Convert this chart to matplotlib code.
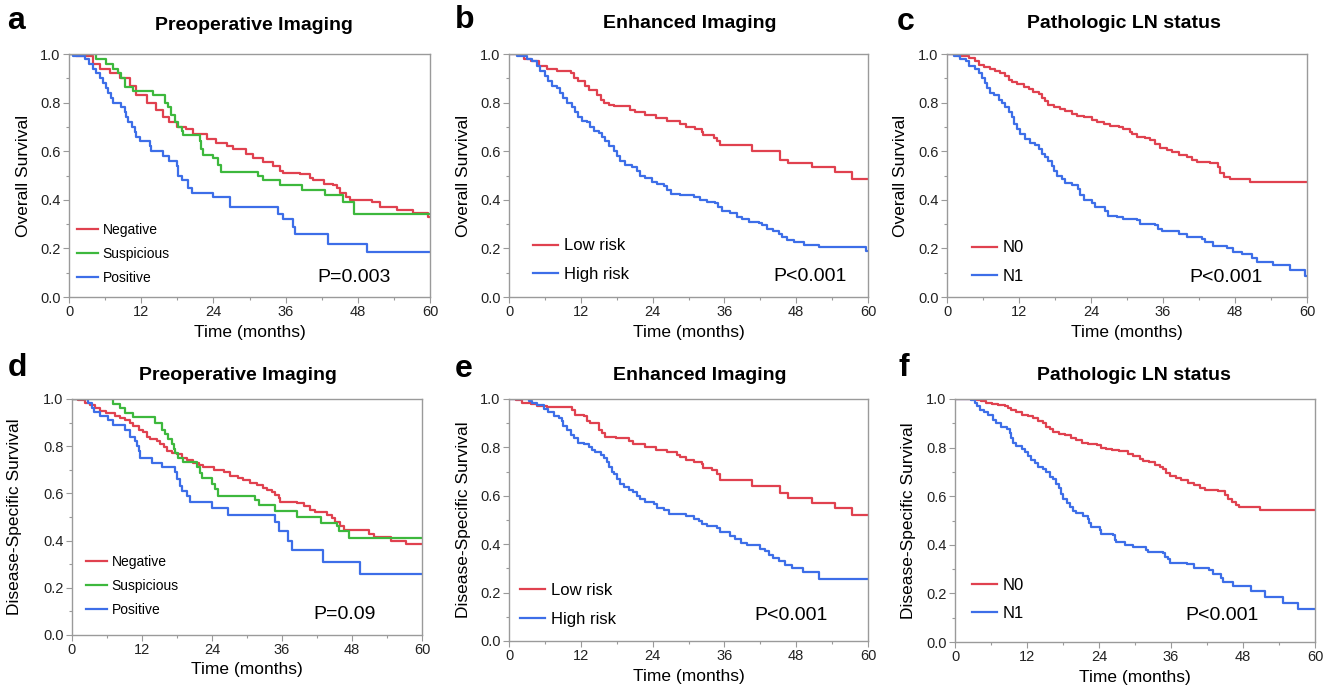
import matplotlib
matplotlib.use("Agg")
import matplotlib.pyplot as plt
from matplotlib.ticker import MultipleLocator

plt.rcParams["font.family"] = ["Liberation Sans", "DejaVu Sans"]

RED = "#e0414f"
GREEN = "#3db83d"
BLUE = "#3d6ee8"
FRAME = "#9a9a9a"

# ---- panel a: overall survival, preoperative imaging ----
a_neg_t = [0, 1.2, 4, 5.1, 6.8, 8.4, 10.1, 11.2, 12.9, 14.5, 15.6, 16.7, 17.9, 19.5, 20.6, 22.9, 24.5, 26.2,
           27.3, 29.5, 30.6, 32.3, 33.9, 35.1, 35.6, 38.4, 40, 40.6, 42.3, 43.9, 44.5, 45, 46.1, 46.7, 50.3,
           51.7, 54.5, 57.2, 59.7, 60]
a_neg_s = [1.0, 0.99, 0.96, 0.94, 0.92, 0.90, 0.87, 0.83, 0.80, 0.77, 0.74, 0.72, 0.70, 0.69, 0.67, 0.65, 0.635,
           0.62, 0.61, 0.59, 0.57, 0.555, 0.54, 0.52, 0.51, 0.505, 0.49, 0.48, 0.465, 0.46, 0.45, 0.43, 0.41,
           0.40, 0.39, 0.37, 0.36, 0.345, 0.33, 0.33]
a_sus_t = [0, 4.5, 5.1, 6.2, 7.3, 8.2, 8.7, 9.3, 10.6, 14.0, 15.9, 16.5, 17.0, 17.6, 18.1, 18.7, 19.0, 21.7, 22.0,
           22.3, 24.0, 24.8, 25.3, 31.4, 32.3, 35.0, 38.7, 42.5, 45.6, 47.3, 60]
a_sus_s = [1.0, 0.98, 0.98, 0.96, 0.94, 0.92, 0.90, 0.865, 0.848, 0.83, 0.80, 0.78, 0.75, 0.72, 0.70, 0.685,
           0.665, 0.64, 0.61, 0.585, 0.57, 0.545, 0.515, 0.50, 0.48, 0.46, 0.44, 0.42, 0.39, 0.34, 0.34]
a_pos_t = [0, 0.7, 2.6, 3.4, 4.0, 4.5, 5.1, 5.7, 6.2, 6.5, 7.0, 7.3, 8.7, 9.3, 9.5, 9.8, 10.4, 10.9, 11.2, 11.8,
           13.4, 13.7, 15.6, 16.7, 17.9, 18.1, 18.7, 19.8, 20.4, 24.0, 26.7, 34.8, 35.6, 37.2, 37.5, 43.1,
           49.5, 60]
a_pos_s = [1.0, 0.99, 0.98, 0.96, 0.94, 0.92, 0.90, 0.88, 0.86, 0.84, 0.82, 0.80, 0.78, 0.76, 0.74, 0.72, 0.70,
           0.68, 0.66, 0.64, 0.62, 0.60, 0.58, 0.56, 0.54, 0.50, 0.48, 0.45, 0.43, 0.41, 0.37, 0.34, 0.32,
           0.29, 0.26, 0.22, 0.185, 0.185]

# ---- panel b: overall survival, enhanced imaging ----
b_low_t = [0, 2.5, 3.6, 5.0, 6.4, 8.0, 10.3, 10.8, 11.6, 12.7, 13.3, 14.7, 15.3, 15.8, 16.7, 17.5, 20.3, 21.1,
           22.8, 24.5, 26.4, 28.6, 29.5, 31.1, 32.3, 32.5, 34.2, 34.8, 35.3, 40.6, 45.3, 46.7, 50.6, 54.5,
           57.3, 60]
b_low_s = [1.0, 0.98, 0.97, 0.95, 0.94, 0.93, 0.92, 0.90, 0.89, 0.87, 0.85, 0.83, 0.81, 0.80, 0.79, 0.785,
           0.77, 0.76, 0.75, 0.735, 0.725, 0.71, 0.70, 0.69, 0.68, 0.665, 0.655, 0.64, 0.625, 0.60, 0.565,
           0.55, 0.535, 0.515, 0.485, 0.485]
b_high_t = [0, 1.3, 3.0, 3.8, 4.7, 5.2, 6.1, 6.6, 7.2, 8.0, 8.6, 9.1, 9.7, 10.5, 11.1, 11.6, 12.2, 13.0, 13.6,
            14.2, 15.0, 15.5, 16.1, 16.7, 17.5, 18.0, 18.6, 19.4, 20.6, 21.4, 21.9, 22.8, 23.9, 24.7, 25.9,
            26.4, 27.0, 28.6, 30.9, 32.0, 33.1, 34.5, 35.0, 35.6, 37.0, 38.1, 38.9, 40.1, 41.7, 42.3, 43.1,
            44.2, 45.1, 45.6, 46.5, 47.6, 49.3, 51.8, 59.7, 60]
b_high_s = [1.0, 0.99, 0.98, 0.97, 0.95, 0.93, 0.91, 0.89, 0.87, 0.86, 0.84, 0.82, 0.80, 0.78, 0.76, 0.74,
            0.725, 0.72, 0.70, 0.685, 0.675, 0.66, 0.64, 0.62, 0.60, 0.58, 0.56, 0.545, 0.535, 0.52, 0.50,
            0.49, 0.475, 0.465, 0.455, 0.44, 0.425, 0.42, 0.41, 0.40, 0.39, 0.385, 0.37, 0.355, 0.345, 0.33,
            0.32, 0.31, 0.305, 0.295, 0.28, 0.27, 0.26, 0.245, 0.235, 0.225, 0.215, 0.205, 0.19, 0.19]

# ---- panel c: overall survival, pathologic LN status ----
c_n0_t = [0, 1.9, 3.6, 4.7, 5.3, 6.1, 7.2, 8.0, 8.9, 9.7, 10.3, 10.8, 11.7, 12.8, 13.6, 14.4, 15.3, 15.8, 16.4,
          16.9, 17.8, 18.9, 19.7, 20.8, 21.6, 22.8, 24.1, 25.0, 26.1, 27.2, 28.6, 29.4, 30.5, 30.8, 31.6,
          33.0, 33.9, 34.7, 35.5, 36.6, 37.5, 38.6, 40.0, 40.8, 41.6, 43.8, 45.2, 45.5, 46.1, 47.2, 50.5, 60]
c_n0_s = [1.0, 0.99, 0.985, 0.97, 0.955, 0.945, 0.94, 0.93, 0.92, 0.91, 0.895, 0.885, 0.875, 0.865, 0.855,
          0.845, 0.835, 0.82, 0.805, 0.79, 0.78, 0.775, 0.765, 0.755, 0.745, 0.74, 0.73, 0.72, 0.71, 0.705,
          0.70, 0.69, 0.68, 0.67, 0.66, 0.655, 0.645, 0.63, 0.615, 0.605, 0.595, 0.585, 0.575, 0.565, 0.555,
          0.55, 0.535, 0.51, 0.495, 0.485, 0.475, 0.475]
c_n1_t = [0, 1.1, 2.2, 3.1, 3.6, 4.7, 5.3, 5.8, 6.4, 6.7, 7.2, 7.8, 8.6, 9.2, 9.7, 10.3, 10.8, 11.1, 11.7, 12.2,
          13.0, 13.9, 14.7, 15.3, 15.8, 16.4, 16.9, 17.5, 17.8, 18.3, 19.1, 19.7, 20.8, 21.9, 22.2, 22.8,
          24.1, 24.7, 26.4, 26.9, 28.3, 29.4, 31.6, 32.2, 34.7, 35.2, 35.8, 38.6, 40.0, 42.5, 43.0, 44.4,
          46.6, 47.7, 49.1, 50.8, 51.6, 54.4, 57.2, 59.7, 60]
c_n1_s = [1.0, 0.99, 0.98, 0.97, 0.95, 0.94, 0.92, 0.90, 0.88, 0.86, 0.84, 0.83, 0.81, 0.80, 0.78, 0.76, 0.74,
          0.71, 0.69, 0.67, 0.65, 0.635, 0.625, 0.61, 0.59, 0.575, 0.56, 0.54, 0.52, 0.50, 0.485, 0.47, 0.46,
          0.445, 0.42, 0.40, 0.385, 0.37, 0.355, 0.335, 0.33, 0.32, 0.315, 0.30, 0.295, 0.28, 0.27, 0.26,
          0.245, 0.24, 0.225, 0.21, 0.20, 0.185, 0.175, 0.16, 0.145, 0.13, 0.11, 0.088, 0.088]

# ---- panel d: disease-specific survival, preoperative imaging ----
d_neg_t = [0, 1.1, 2.2, 3.1, 3.9, 4.8, 5.9, 7.4, 8.2, 9.1, 9.95, 10.5, 11.4, 12.2, 12.8, 13.4, 14.5, 15.1, 15.7,
           16.2, 17.1, 18.0, 18.8, 19.7, 20.8, 21.7, 22.5, 24.3, 26.0, 27.1, 28.5, 29.4, 30.5, 31.7, 32.8,
           33.4, 34.3, 34.8, 35.4, 35.7, 38.6, 39.7, 40.8, 41.7, 43.7, 44.6, 45.1, 46.0, 46.6, 50.9, 51.7,
           54.6, 57.3, 60]
d_neg_s = [1.0, 0.995, 0.985, 0.975, 0.96, 0.95, 0.94, 0.93, 0.92, 0.91, 0.90, 0.885, 0.87, 0.86, 0.84, 0.83,
           0.82, 0.81, 0.795, 0.78, 0.77, 0.765, 0.75, 0.74, 0.73, 0.72, 0.71, 0.70, 0.69, 0.675, 0.665, 0.655,
           0.645, 0.635, 0.625, 0.615, 0.605, 0.595, 0.58, 0.565, 0.56, 0.545, 0.53, 0.52, 0.51, 0.495, 0.48,
           0.46, 0.445, 0.43, 0.415, 0.40, 0.385, 0.385]
d_sus_t = [0, 7.1, 8.2, 9.1, 10.5, 14.2, 15.4, 16.0, 16.5, 17.1, 17.4, 17.7, 18.2, 19.1, 21.4, 22.0, 22.3, 24.0,
           24.5, 25.1, 31.4, 32.0, 34.8, 38.6, 42.6, 45.4, 45.7, 47.4, 60]
d_sus_s = [1.0, 0.98, 0.96, 0.94, 0.925, 0.90, 0.87, 0.85, 0.83, 0.81, 0.79, 0.77, 0.75, 0.735, 0.71, 0.685,
           0.665, 0.64, 0.62, 0.59, 0.57, 0.55, 0.525, 0.50, 0.475, 0.46, 0.44, 0.41, 0.41]
d_pos_t = [0, 2.8, 3.4, 3.7, 4.8, 6.2, 7.1, 9.1, 10.0, 10.8, 11.1, 11.4, 11.7, 13.7, 15.4, 17.7, 18.0, 18.5,
           18.8, 19.7, 20.3, 24.0, 26.8, 34.8, 35.4, 37.1, 37.7, 43.1, 49.4, 60]
d_pos_s = [1.0, 0.985, 0.96, 0.945, 0.93, 0.91, 0.89, 0.87, 0.84, 0.82, 0.80, 0.78, 0.75, 0.73, 0.71, 0.69,
           0.66, 0.63, 0.61, 0.59, 0.565, 0.54, 0.51, 0.48, 0.44, 0.40, 0.36, 0.31, 0.26, 0.26]

# ---- panel e: disease-specific survival, enhanced imaging ----
e_low_t = [0, 1.1, 2.2, 3.6, 4.7, 6.4, 10.5, 11.1, 12.5, 13.0, 13.6, 15.0, 15.5, 16.1, 17.8, 20.0, 20.8, 22.8,
           24.5, 26.4, 28.1, 28.6, 29.5, 30.9, 32.3, 32.5, 33.9, 34.8, 35.3, 40.6, 45.3, 46.7, 50.6, 54.5,
           57.3, 60]
e_low_s = [1.0, 0.995, 0.985, 0.98, 0.97, 0.965, 0.955, 0.935, 0.93, 0.91, 0.90, 0.87, 0.86, 0.845, 0.84,
           0.825, 0.815, 0.80, 0.79, 0.78, 0.77, 0.76, 0.75, 0.74, 0.73, 0.715, 0.705, 0.69, 0.665, 0.64, 0.61,
           0.59, 0.57, 0.55, 0.52, 0.52]
e_high_t = [0, 3.3, 3.8, 4.7, 5.8, 6.6, 7.5, 8.3, 8.9, 9.1, 9.7, 10.3, 10.8, 11.6, 12.5, 13.3, 13.9, 14.4,
            15.3, 15.8, 16.4, 16.7, 17.2, 17.5, 18.1, 18.6, 19.2, 20.0, 20.8, 21.4, 21.9, 22.8, 24.2, 24.7,
            25.9, 26.7, 29.5, 30.9, 31.7, 32.3, 33.1, 34.8, 35.3, 37.0, 37.8, 38.7, 39.8, 42.0, 42.8, 43.4,
            44.2, 45.1, 46.2, 47.3, 49.2, 51.8, 60]
e_high_s = [1.0, 0.99, 0.985, 0.975, 0.96, 0.945, 0.93, 0.92, 0.91, 0.89, 0.87, 0.85, 0.84, 0.82, 0.815,
            0.80, 0.79, 0.78, 0.77, 0.755, 0.74, 0.72, 0.70, 0.69, 0.67, 0.65, 0.635, 0.625, 0.615, 0.60,
            0.585, 0.575, 0.565, 0.55, 0.54, 0.525, 0.515, 0.505, 0.495, 0.485, 0.475, 0.465, 0.45, 0.435,
            0.42, 0.405, 0.395, 0.38, 0.37, 0.355, 0.345, 0.33, 0.315, 0.30, 0.285, 0.256, 0.256]

# ---- panel f: disease-specific survival, pathologic LN status ----
f_n0_t = [0, 3.6, 4.4, 5.2, 6.1, 7.2, 8.3, 8.8, 9.4, 10.2, 11.1, 12.2, 13.0, 13.8, 14.7, 15.2, 15.8, 16.3,
          17.4, 18.3, 19.4, 20.2, 21.1, 22.2, 23.6, 24.4, 25.2, 26.1, 27.4, 28.8, 29.7, 30.8, 31.3, 32.4,
          33.3, 34.1, 34.7, 35.2, 35.8, 36.9, 37.7, 38.8, 39.9, 40.8, 41.6, 43.8, 45.0, 45.5, 46.1, 46.9,
          47.4, 50.8, 60]
f_n0_s = [1.0, 0.995, 0.99, 0.985, 0.98, 0.975, 0.97, 0.965, 0.955, 0.945, 0.935, 0.93, 0.92, 0.91, 0.90,
          0.885, 0.875, 0.865, 0.855, 0.85, 0.84, 0.83, 0.82, 0.815, 0.81, 0.80, 0.795, 0.79, 0.785, 0.775,
          0.765, 0.755, 0.745, 0.74, 0.73, 0.72, 0.71, 0.695, 0.685, 0.675, 0.665, 0.655, 0.645, 0.635, 0.625,
          0.62, 0.605, 0.59, 0.575, 0.565, 0.555, 0.542, 0.542]
f_n1_t = [0, 2.7, 3.3, 3.6, 4.1, 4.9, 5.5, 6.3, 6.9, 7.7, 8.6, 9.1, 9.4, 9.7, 10.2, 11.1, 11.6, 12.2, 12.7, 13.3,
          13.8, 14.7, 15.2, 15.8, 16.3, 16.9, 17.4, 17.7, 18.0, 18.6, 19.1, 19.7, 20.2, 21.3, 22.2, 22.4,
          22.7, 24.1, 24.4, 26.3, 26.6, 26.9, 28.3, 29.7, 31.9, 32.2, 34.7, 35.0, 35.5, 35.8, 38.6, 39.9,
          42.4, 43.0, 44.4, 44.7, 46.3, 49.4, 51.7, 54.7, 57.2, 60]
f_n1_s = [1.0, 0.995, 0.985, 0.97, 0.955, 0.945, 0.935, 0.915, 0.90, 0.885, 0.875, 0.86, 0.84, 0.82, 0.805,
          0.795, 0.78, 0.765, 0.75, 0.735, 0.72, 0.71, 0.70, 0.68, 0.67, 0.65, 0.635, 0.61, 0.59, 0.57, 0.555,
          0.54, 0.53, 0.52, 0.505, 0.49, 0.475, 0.46, 0.445, 0.44, 0.42, 0.41, 0.40, 0.39, 0.38, 0.37, 0.365,
          0.35, 0.34, 0.325, 0.32, 0.305, 0.295, 0.28, 0.265, 0.245, 0.23, 0.21, 0.186, 0.161, 0.136, 0.136]

W, H = 1337, 691


def px_axes(fig, left, top, right, bottom):
    # convert pixel box of the reference into figure fractions
    return fig.add_axes([left / W, 1 - bottom / H, (right - left) / W, (bottom - top) / H])


def km_panel(ax, curves, ylabel, ylab_x, legend_xy, legend_size, spacing, pval, pval_xy):
    for t, s, color, label in curves:
        ax.plot(t, s, drawstyle="steps-post", color=color, lw=1.6, label=label)
    ax.set_xlim(0, 60)
    ax.set_ylim(0, 1)
    ax.xaxis.set_major_locator(MultipleLocator(12))
    ax.xaxis.set_minor_locator(MultipleLocator(6))
    ax.yaxis.set_major_locator(MultipleLocator(0.2))
    ax.yaxis.set_minor_locator(MultipleLocator(0.1))
    ax.yaxis.set_major_formatter(matplotlib.ticker.FormatStrFormatter("%.1f"))
    for sp in ax.spines.values():
        sp.set_color(FRAME)
        sp.set_linewidth(1.0)
    ax.tick_params(which="major", direction="out", length=4, width=0.8, color=FRAME, labelsize=10.5,
                   labelcolor="#222222", pad=2)
    ax.tick_params(which="minor", direction="out", length=2.5, width=0.8, color=FRAME)
    ax.set_xlabel("Time (months)", fontsize=12.5)
    ax.set_ylabel(ylabel, fontsize=12.5)
    ax.xaxis.set_label_coords(0.5, -0.145)
    ax.xaxis.label.set_va("center")
    ax.yaxis.set_label_coords(ylab_x, 0.5)
    ax.yaxis.label.set_va("center")
    ax.legend(loc="center left", bbox_to_anchor=legend_xy, frameon=False, fontsize=legend_size,
              handlelength=1.5, handletextpad=0.35, labelspacing=spacing, borderpad=0, borderaxespad=0)
    ax.text(pval_xy[0], pval_xy[1], pval, transform=ax.transAxes, ha="center", va="center", fontsize=14)


fig = plt.figure(figsize=(W / 100, H / 100), dpi=100)

ax_a = px_axes(fig, 69, 54, 430, 297)
km_panel(ax_a, [(a_neg_t, a_neg_s, RED, "Negative"), (a_sus_t, a_sus_s, GREEN, "Suspicious"),
                (a_pos_t, a_pos_s, BLUE, "Positive")],
         "Overall Survival", -0.125, (0.022, 0.179), 10, 0.72, "P=0.003", (0.79, 0.082))
ax_b = px_axes(fig, 509, 54, 868, 297)
km_panel(ax_b, [(b_low_t, b_low_s, RED, "Low risk"), (b_high_t, b_high_s, BLUE, "High risk")],
         "Overall Survival", -0.128, (0.067, 0.152), 12, 0.8, "P<0.001", (0.84, 0.086))
ax_c = px_axes(fig, 947, 54, 1307, 297)
km_panel(ax_c, [(c_n0_t, c_n0_s, RED, "N0"), (c_n1_t, c_n1_s, BLUE, "N1")],
         "Overall Survival", -0.129, (0.069, 0.144), 12, 0.8, "P<0.001", (0.774, 0.082))
ax_d = px_axes(fig, 72, 399, 422, 635)
km_panel(ax_d, [(d_neg_t, d_neg_s, RED, "Negative"), (d_sus_t, d_sus_s, GREEN, "Suspicious"),
                (d_pos_t, d_pos_s, BLUE, "Positive")],
         "Disease-Specific Survival", -0.163, (0.04, 0.209), 10, 0.72, "P=0.09", (0.779, 0.085))
ax_e = px_axes(fig, 509, 399, 868, 641)
km_panel(ax_e, [(e_low_t, e_low_s, RED, "Low risk"), (e_high_t, e_high_s, BLUE, "High risk")],
         "Disease-Specific Survival", -0.128, (0.031, 0.149), 12, 0.8, "P<0.001", (0.786, 0.107))
ax_f = px_axes(fig, 955, 399, 1315, 642)
km_panel(ax_f, [(f_n0_t, f_n0_s, RED, "N0"), (f_n1_t, f_n1_s, BLUE, "N1")],
         "Disease-Specific Survival", -0.128, (0.048, 0.175), 12, 0.8, "P<0.001", (0.741, 0.111))

# titles and panel letters, placed at reference pixel positions
titles = [("Preoperative Imaging", 254, 26), ("Enhanced Imaging", 690, 24), ("Pathologic LN status", 1124, 24),
          ("Preoperative Imaging", 238, 375), ("Enhanced Imaging", 700, 375), ("Pathologic LN status", 1134, 375)]
for txt, x, y in titles:
    fig.text(x / W, 1 - y / H, txt, ha="center", va="center", fontsize=14, fontweight="bold")

letters = [("a", 16, 21), ("b", 465, 20), ("c", 906, 22), ("d", 17, 368), ("e", 464, 369), ("f", 904, 368)]
for txt, x, y in letters:
    fig.text(x / W, 1 - y / H, txt, ha="center", va="center", fontsize=23, fontweight="bold")

fig.savefig("out.png", dpi=100)
